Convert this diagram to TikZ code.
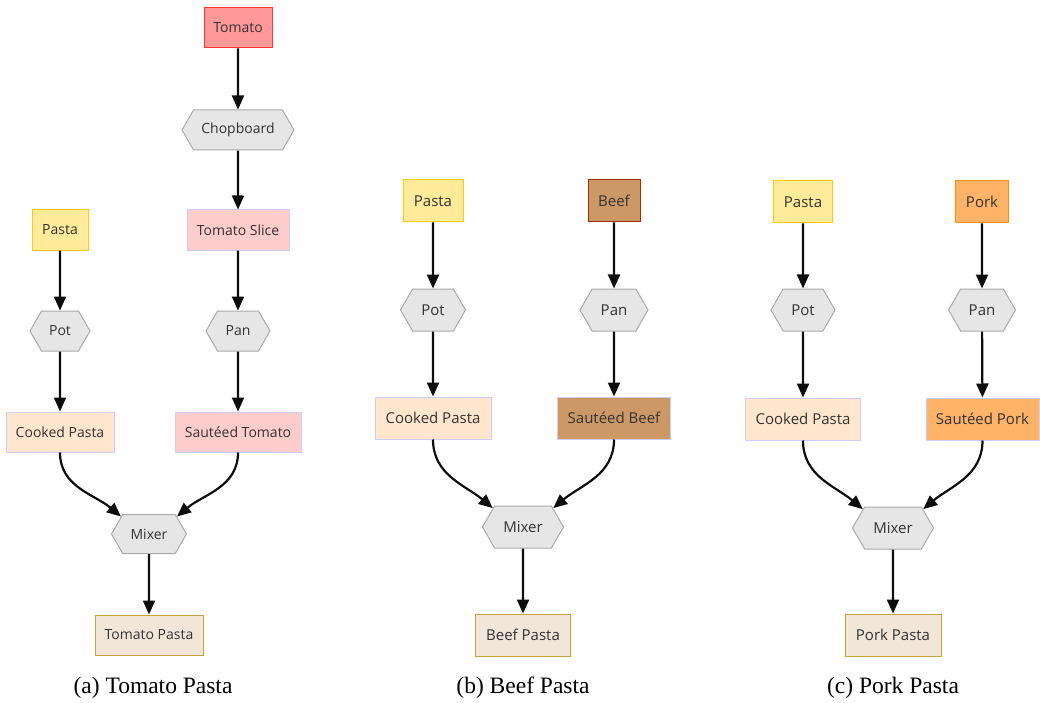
\documentclass[tikz,border=0pt]{standalone}
\usepackage{fontspec}
\setmainfont{Liberation Serif}
\newfontfamily\nodefont{Open Sans}
\usetikzlibrary{arrows.meta,shapes.symbols}
\definecolor{txt}{HTML}{333333}
\definecolor{tomfill}{HTML}{FF9999}
\definecolor{tomline}{HTML}{FF3333}
\definecolor{pastafill}{HTML}{FFEB99}
\definecolor{pastaline}{HTML}{FFCC00}
\definecolor{pinkfill}{HTML}{FFCCCC}
\definecolor{lav}{HTML}{CCCCFF}
\definecolor{cookfill}{HTML}{FFE6CC}
\definecolor{hexfill}{HTML}{E6E6E6}
\definecolor{hexline}{HTML}{AAAAAA}
\definecolor{dishfill}{HTML}{F2E6D9}
\definecolor{dishline}{HTML}{C8A040}
\definecolor{beeffill}{HTML}{CC9966}
\definecolor{beefline}{HTML}{993300}
\definecolor{porkfill}{HTML}{FFB366}
\definecolor{porkline}{HTML}{FF8C1A}
\tikzset{
  base/.style={rectangle, draw, line width=1pt, inner sep=2pt, text=txt},
  smallf/.style={font=\nodefont\fontsize{14}{16}\selectfont, minimum height=40},
  bigf/.style={font=\nodefont\fontsize{15}{17}\selectfont, minimum height=42},
  raw/.style={base, fill=#1fill, draw=#1line},
  inter/.style={base, fill=#1, draw=lav},
  dish/.style={base, fill=dishfill, draw=dishline},
  hexa/.style={signal, signal to=east and west, signal pointer angle=120,
    draw=hexline, fill=hexfill, line width=1pt, inner sep=2pt, text=txt},
  flow/.style={-{Triangle[length=14pt,width=12pt]}, line width=2.2pt, black!95},
  captext/.style={font=\fontsize{23.5}{26}\selectfont}
}
\begin{document}
\begin{tikzpicture}[x=1pt,y=-1pt]
\useasboundingbox (0,0) rectangle (1040,703);
% (a)
\begin{scope}[every node/.append style={smallf}]
\node[raw=tom, minimum width=68] (aT) at (238,28) {Tomato};
\node[hexa, minimum width=112] (aC) at (238,130) {Chopboard};
\node[inter=pinkfill, minimum width=102] (aS) at (238,230) {Tomato Slice};
\node[raw=pasta, minimum width=56] (aP) at (60,230) {Pasta};
\node[hexa, minimum width=60] (aPot) at (60,331) {Pot};
\node[hexa, minimum width=64] (aPan) at (238,331) {Pan};
\node[inter=cookfill, minimum width=108] (aCP) at (60,432) {Cooked Pasta};
\node[inter=pinkfill, minimum width=126] (aST) at (238,432) {Sautéed Tomato};
\node[hexa, minimum width=75, minimum height=39] (aM) at (149,534) {Mixer};
\node[dish, minimum width=108] (aD) at (149,635) {Tomato Pasta};
\end{scope}
\draw[flow] (aT) -- (aC);
\draw[flow] (aC) -- (aS);
\draw[flow] (aS) -- (aPan);
\draw[flow] (aP) -- (aPot);
\draw[flow] (aPot) -- (aCP);
\draw[flow] (aPan) -- (aST);
\draw[flow] (aCP.south) to[out=-90,in=140] (aM.148);
\draw[flow] (aST.south) to[out=-90,in=40] (aM.32);
\draw[flow] (aM) -- (aD);
\node[captext] (capa) at (153,688) {(a) Tomato Pasta};
% (b)
\begin{scope}[every node/.append style={bigf}]
\node[raw=pasta, minimum width=60] (bP) at (433,201) {Pasta};
\node[raw=beef, minimum width=52] (bB) at (614,201) {Beef};
\node[hexa, minimum width=65] (bPot) at (433,310) {Pot};
\node[hexa, minimum width=68] (bPan) at (614,310) {Pan};
\node[inter=cookfill, minimum width=116] (bCP) at (433,418) {Cooked Pasta};
\node[inter=beeffill, minimum width=113] (bSB) at (614,418) {Sautéed Beef};
\node[hexa, minimum width=81] (bM) at (523,527) {Mixer};
\node[dish, minimum width=95] (bD) at (523,635) {Beef Pasta};
\end{scope}
\draw[flow] (bP) -- (bPot);
\draw[flow] (bPot) -- (bCP);
\draw[flow] (bB) -- (bPan);
\draw[flow] (bPan) -- (bSB);
\draw[flow] (bCP.south) to[out=-90,in=140] (bM.148);
\draw[flow] (bSB.south) to[out=-90,in=40] (bM.32);
\draw[flow] (bM) -- (bD);
\node[captext] (capb) at (523,688) {(b) Beef Pasta};
% (c)
\begin{scope}[every node/.append style={bigf}]
\node[raw=pasta, minimum width=59] (cP) at (803,202) {Pasta};
\node[raw=pork, minimum width=53] (cK) at (982,202) {Pork};
\node[hexa, minimum width=64] (cPot) at (803,310) {Pot};
\node[hexa, minimum width=67] (cPan) at (982,310) {Pan};
\node[inter=cookfill, minimum width=115] (cCP) at (803,419) {Cooked Pasta};
\node[inter=porkfill, minimum width=113] (cSK) at (982.5,419) {Sautéed Pork};
\node[hexa, minimum width=81] (cM) at (893,528) {Mixer};
\node[dish, minimum width=96] (cD) at (893,635) {Pork Pasta};
\end{scope}
\draw[flow] (cP) -- (cPot);
\draw[flow] (cPot) -- (cCP);
\draw[flow] (cK) -- (cPan);
\draw[flow] (cPan) -- (cSK);
\draw[flow] (cCP.south) to[out=-90,in=140] (cM.148);
\draw[flow] (cSK.south) to[out=-90,in=40] (cM.32);
\draw[flow] (cM) -- (cD);
\node[captext] (capc) at (893,688) {(c) Pork Pasta};
\end{tikzpicture}
\end{document}
